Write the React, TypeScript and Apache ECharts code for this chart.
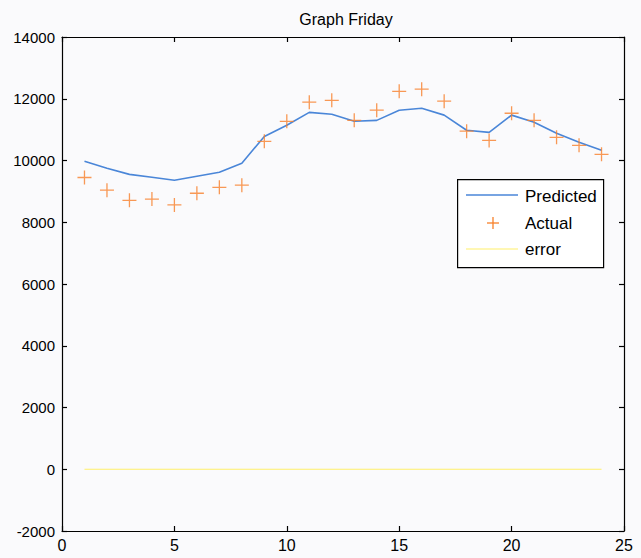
import React, { useEffect, useRef } from "react";
import * as echarts from "echarts";

const hours = [1, 2, 3, 4, 5, 6, 7, 8, 9, 10, 11, 12, 13, 14, 15, 16, 17, 18, 19, 20, 21, 22, 23, 24];
const predicted = [9975, 9750, 9550, 9460, 9360, 9490, 9620, 9910, 10780, 11140, 11560, 11500, 11270, 11300, 11630, 11690, 11470, 10980, 10910, 11470, 11240, 10880, 10590, 10330];
const actual = [9450, 9040, 8710, 8750, 8560, 8940, 9130, 9200, 10620, 11270, 11890, 11950, 11300, 11630, 12240, 12310, 11920, 10950, 10650, 11530, 11300, 10750, 10490, 10200];
const errorVals = [0, 0, 0, 0, 0, 0, 0, 0, 0, 0, 0, 0, 0, 0, 0, 0, 0, 0, 0, 0, 0, 0, 0, 0];
const legendNames = ["Predicted", "Actual", "error"];

const BLUE = "#4a86d8";
const ORANGE = "#f7802a";
const YELLOW = "#fff06a";
const FONT = "'Liberation Sans', Arial, sans-serif";

export default function App() {
  const ref = useRef<HTMLDivElement>(null);
  useEffect(() => {
    const chart = echarts.init(ref.current!, null, { renderer: "svg" });
    const pair = (ys: number[]) => hours.map((h, i) => [h, ys[i]]);
    const axisCommon = {
      axisLine: { show: true, onZero: false, lineStyle: { color: "#000", width: 1.2 } },
      axisTick: { show: true, inside: true, length: 5, lineStyle: { color: "#000", width: 1.2 } },
      splitLine: { show: false },
    };
    const lx = 457, ly = 179;
    chart.setOption({
      animation: false,
      backgroundColor: "#fafafc",
      title: {
        text: "Graph Friday",
        left: 341,
        top: 6,
        textAlign: "center",
        textStyle: { fontFamily: FONT, fontSize: 16, fontWeight: "normal", color: "#000" },
      },
      grid: { left: 62, right: 17, top: 37, bottom: 27 },
      xAxis: [
        {
          type: "value", min: 0, max: 25, interval: 5, position: "bottom",
          ...axisCommon,
          axisLabel: { color: "#000", fontFamily: FONT, fontSize: 16, margin: 6 },
        },
        {
          type: "value", min: 0, max: 25, interval: 5, position: "top",
          ...axisCommon,
          axisLabel: { show: false },
        },
      ],
      yAxis: [
        {
          type: "value", min: -2000, max: 14000, interval: 2000, position: "left",
          ...axisCommon,
          axisLabel: { color: "#000", fontFamily: FONT, fontSize: 15, margin: 7, formatter: (v: number) => String(v) },
        },
        {
          type: "value", min: -2000, max: 14000, interval: 2000, position: "right",
          ...axisCommon,
          axisLabel: { show: false },
        },
      ],
      series: [
        {
          name: legendNames[0], type: "line", data: pair(predicted), showSymbol: false, symbol: "none",
          lineStyle: { color: BLUE, width: 1.6 }, z: 3,
        },
        {
          name: legendNames[1], type: "scatter", data: pair(actual),
          symbol: "path://M0,5L10,5M5,0L5,10", symbolSize: 14,
          itemStyle: { color: "none", borderColor: ORANGE, borderWidth: 1.3 }, z: 4,
        },
        {
          name: legendNames[2], type: "line", data: pair(errorVals), showSymbol: false, symbol: "none",
          lineStyle: { color: YELLOW, width: 1.2 }, z: 2,
        },
      ],
      graphic: [
        {
          type: "rect", left: lx, top: ly, z: 10,
          shape: { width: 146, height: 88 },
          style: { fill: "#fff", stroke: "#000", lineWidth: 1.2 },
        },
        { type: "line", z: 11, shape: { x1: lx + 9, y1: ly + 16, x2: lx + 61, y2: ly + 16 }, style: { stroke: BLUE, lineWidth: 1.6 } },
        { type: "line", z: 11, shape: { x1: lx + 30, y1: ly + 44, x2: lx + 42, y2: ly + 44 }, style: { stroke: ORANGE, lineWidth: 1.3 } },
        { type: "line", z: 11, shape: { x1: lx + 36, y1: ly + 38, x2: lx + 36, y2: ly + 50 }, style: { stroke: ORANGE, lineWidth: 1.3 } },
        { type: "line", z: 11, shape: { x1: lx + 9, y1: ly + 70, x2: lx + 61, y2: ly + 70 }, style: { stroke: YELLOW, lineWidth: 1.2 } },
        { type: "text", z: 11, left: lx + 68, top: ly + 9, style: { text: legendNames[0], fontFamily: FONT, fontSize: 17, fill: "#000" } },
        { type: "text", z: 11, left: lx + 68, top: ly + 36, style: { text: legendNames[1], fontFamily: FONT, fontSize: 17, fill: "#000" } },
        { type: "text", z: 11, left: lx + 68, top: ly + 62, style: { text: legendNames[2], fontFamily: FONT, fontSize: 17, fill: "#000" } },
      ],
    });
    return () => chart.dispose();
  }, []);
  return (
    <div
      ref={ref}
      style={{ position: "fixed", left: 0, top: 0, width: 641, height: 558 }}
    />
  );
}
